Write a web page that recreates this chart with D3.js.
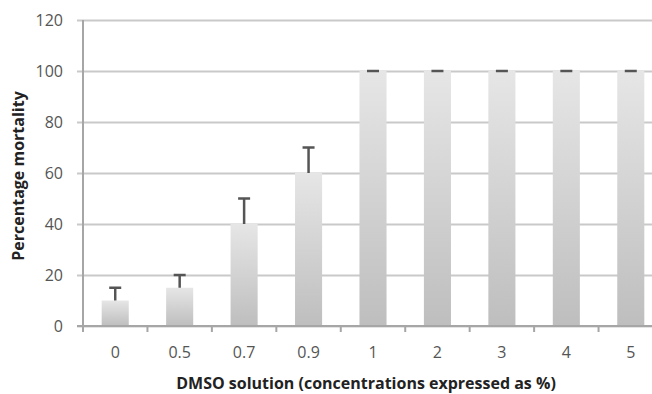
<!DOCTYPE html>
<html>
<head>
<meta charset="utf-8">
<script src="https://cdn.jsdelivr.net/npm/d3@7"></script>
<style>
  html, body { margin: 0; padding: 0; background: #fff; }
  svg { display: block; }
</style>
</head>
<body>
<svg id="chart" width="652" height="394"></svg>
<script>
// DMSO concentrations (%) and mean percentage mortality with upper error
const concentrations = ["0", "0.5", "0.7", "0.9", "1", "2", "3", "4", "5"];
const mortality = [10, 15, 40, 60, 100, 100, 100, 100, 100];
const errorUp = [5, 5, 10, 10, 0, 0, 0, 0, 0];
const yTicks = [0, 20, 40, 60, 80, 100, 120];

(function draw() {
  const svg = d3.select("#chart");
  const plotLeft = 83, plotTop = 20, plotBottom = 326, plotRight = 663;
  const font = "'Open Sans', Lato, sans-serif";

  const x = d3.scaleBand().domain(concentrations).range([plotLeft, plotRight])
    .paddingInner(0.58).paddingOuter(0.29);
  const xEdges = d3.scaleLinear().domain([0, concentrations.length]).range([plotLeft, plotRight]);
  const y = d3.scaleLinear().domain([0, 120]).range([plotBottom, plotTop]);

  const defs = svg.append("defs");
  const grad = defs.append("linearGradient").attr("id", "barFill")
    .attr("x1", 0).attr("y1", 0).attr("x2", 0).attr("y2", 1);
  grad.append("stop").attr("offset", "0%").attr("stop-color", "#e6e6e6");
  grad.append("stop").attr("offset", "100%").attr("stop-color", "#bebebe");

  // horizontal gridlines with left tick stubs
  svg.append("g")
    .attr("transform", `translate(${plotLeft},0)`)
    .call(d3.axisLeft(y).tickValues(yTicks).tickSize(-(652 - plotLeft)).tickFormat(""))
    .call(g => g.select(".domain").remove())
    .call(g => g.selectAll("line").attr("stroke", "#c9c9c9").attr("stroke-width", 2).attr("x1", -6));

  // y tick labels
  svg.append("g")
    .attr("transform", `translate(${plotLeft - 20},0)`)
    .call(d3.axisLeft(y).tickValues(yTicks).tickSize(0).tickPadding(0))
    .call(g => g.select(".domain").remove())
    .call(g => g.selectAll("text")
      .attr("font-family", font)
      .attr("font-size", 16).attr("fill", "#555").attr("text-anchor", "end"));

  // bars
  svg.append("g").selectAll("rect").data(mortality).join("rect")
    .attr("x", (d, i) => x(concentrations[i]))
    .attr("width", x.bandwidth())
    .attr("y", d => y(d))
    .attr("height", d => y(0) - y(d))
    .attr("fill", "url(#barFill)");

  // upper error bars
  const eb = svg.append("g").attr("stroke", "#555").attr("stroke-width", 2.5);
  mortality.forEach((d, i) => {
    const cx = x(concentrations[i]) + x.bandwidth() / 2;
    const hi = d + errorUp[i];
    if (errorUp[i] > 0) {
      eb.append("line").attr("x1", cx).attr("x2", cx).attr("y1", y(d)).attr("y2", y(hi));
    }
    eb.append("line").attr("x1", cx - 6).attr("x2", cx + 6).attr("y1", y(hi)).attr("y2", y(hi));
  });

  // axis lines
  svg.append("line").attr("x1", plotLeft).attr("x2", plotLeft).attr("y1", plotTop).attr("y2", plotBottom)
    .attr("stroke", "#a6a6a6").attr("stroke-width", 2);
  svg.append("line").attr("x1", plotLeft - 6).attr("x2", 652).attr("y1", plotBottom).attr("y2", plotBottom)
    .attr("stroke", "#a6a6a6").attr("stroke-width", 2);

  // x tick marks between categories
  svg.append("g").selectAll("line").data(d3.range(concentrations.length + 1)).join("line")
    .attr("x1", d => xEdges(d)).attr("x2", d => xEdges(d))
    .attr("y1", plotBottom).attr("y2", plotBottom + 6)
    .attr("stroke", "#a6a6a6").attr("stroke-width", 2);

  // x tick labels
  svg.append("g").selectAll("text").data(concentrations).join("text")
    .attr("x", d => x(d) + x.bandwidth() / 2)
    .attr("y", 358)
    .attr("text-anchor", "middle")
    .attr("font-family", font)
    .attr("font-size", 16).attr("fill", "#555")
    .text(d => d);

  // axis titles
  svg.append("text")
    .attr("x", 366).attr("y", 389)
    .attr("text-anchor", "middle")
    .attr("font-family", font)
    .attr("font-weight", "bold").attr("font-size", 16).attr("fill", "#222")
    .text("DMSO solution (concentrations expressed as %)");

  svg.append("text")
    .attr("transform", "translate(24,176) rotate(-90)")
    .attr("text-anchor", "middle")
    .attr("font-family", font)
    .attr("font-weight", "bold").attr("font-size", 16).attr("fill", "#222")
    .text("Percentage mortality");
})();
</script>
</body>
</html>
